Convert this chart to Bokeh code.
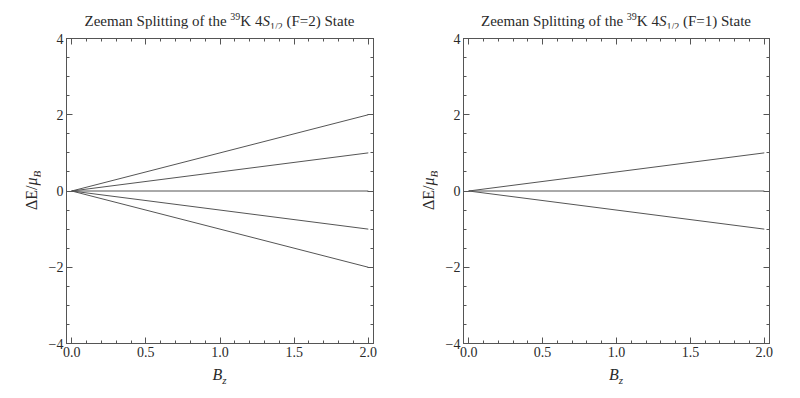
from bokeh.plotting import figure
from bokeh.layouts import row, column
from bokeh.models import LinearAxis, Range1d, FixedTicker, PrintfTickFormatter, Div
from bokeh.embed import file_html
from bokeh.resources import INLINE

# ---- data ----
B_field = [0.0, 2.0]
f2_levels = {"mF=2": [0.0, 2.0], "mF=1": [0.0, 1.0], "mF=0": [0.0, 0.0],
             "mF=-1": [0.0, -1.0], "mF=-2": [0.0, -2.0]}
f1_levels = {"mF=-1": [0.0, 1.0], "mF=0": [0.0, 0.0], "mF=1": [0.0, -1.0]}
x_ticks = [0.0, 0.5, 1.0, 1.5, 2.0]
x_minor = [v / 10 for v in range(0, 21)]
y_ticks = [-4, -2, 0, 2, 4]
y_minor = [v / 2 for v in range(-8, 9)]
y_tick_labels = {-4: "\u22124", -2: "\u22122", 0: "0", 2: "2", 4: "4"}
states = ["F=2", "F=1"]

SERIF = "Liberation Serif"
FRAME = "#555555"
TXT = "#2a2a2a"
LINE = "#555555"
FONT_CSS = "font-family:'Liberation Serif',serif;color:%s;" % TXT

TOP_B = 10      # figure border above frame
BOT_B = 22      # figure border below frame
LEFT_B = 26     # figure border left of frame (tick labels)
FRAME_H = 305
TITLE_H = 28
YLAB_GAP = 33   # distance from frame to centre of y label


def style_axis(ax, y=False):
    ax.axis_line_color = FRAME
    ax.major_tick_line_color = FRAME
    ax.minor_tick_line_color = FRAME
    ax.major_tick_in = 6
    ax.major_tick_out = 0
    ax.minor_tick_in = 3
    ax.minor_tick_out = 0
    ax.major_label_text_font = SERIF
    ax.major_label_text_color = TXT
    ax.major_label_text_font_size = "14px"
    ax.major_label_standoff = 3
    if y:
        ax.ticker = FixedTicker(ticks=y_ticks, minor_ticks=y_minor)
        ax.major_label_overrides = y_tick_labels
    else:
        ax.ticker = FixedTicker(ticks=x_ticks, minor_ticks=x_minor)
        ax.formatter = PrintfTickFormatter(format="%.1f")


def mirror_axes(p, side, minor, major):
    # tick marks only (no labels) on the opposite frame sides
    for ticks, length in ((minor, 3), (major, 6)):
        ax = LinearAxis(ticker=FixedTicker(ticks=[], minor_ticks=ticks))
        ax.axis_line_color = FRAME
        ax.minor_tick_line_color = FRAME
        ax.minor_tick_in = length
        ax.minor_tick_out = 0
        ax.major_tick_in = 0
        ax.major_tick_out = 0
        ax.major_label_standoff = 0
        p.add_layout(ax, side)


def make_panel(state, levels, ydiv_w, frame_w, right_border):
    p = figure(frame_width=frame_w, frame_height=FRAME_H, output_backend="svg",
               toolbar_location=None, x_range=Range1d(-0.035, 2.035),
               y_range=Range1d(-4, 4),
               min_border_left=LEFT_B, min_border_right=right_border,
               min_border_top=TOP_B, min_border_bottom=BOT_B, margin=(0, 0, 0, 0))
    p.grid.visible = False
    p.outline_line_color = FRAME
    style_axis(p.xaxis[0])
    style_axis(p.yaxis[0], y=True)
    mirror_axes(p, "above", x_minor, x_ticks)
    mirror_axes(p, "right", y_minor, y_ticks)
    for name, vals in levels.items():
        p.line(B_field, vals, line_color=LINE, line_width=1)

    fig_h = TOP_B + FRAME_H + BOT_B
    total_w = ydiv_w + LEFT_B + frame_w + right_border
    frame_cx = ydiv_w + LEFT_B + frame_w / 2
    shift = frame_cx - total_w / 2

    title = Div(
        text=("<div style=\"%s font-size:15px;width:%dpx;text-align:center;"
              "line-height:20px;padding-top:11px;white-space:nowrap;"
              "transform:translateX(%.1fpx);\">"
              "Zeeman Splitting of the <sup style=\"font-size:10px;line-height:0;\">39</sup>K "
              "4<i>S</i><sub style=\"font-size:10px;line-height:0;\">1/2</sub> (%s) State</div>")
        % (FONT_CSS, total_w, shift, state),
        width=total_w, height=TITLE_H, margin=(0, 0, 0, 0))

    inner_h = 2 * (TOP_B + FRAME_H / 2)
    centre = ydiv_w + LEFT_B - YLAB_GAP          # x of label centre inside the div
    pad = max(0, 2 * centre - ydiv_w)
    ylab = Div(
        text=("<div style=\"%s font-size:16px;width:%dpx;height:%dpx;display:flex;"
              "align-items:center;justify-content:center;box-sizing:border-box;"
              "padding-left:%dpx;\">"
              "<span style=\"display:inline-block;transform:rotate(-90deg);white-space:nowrap;\">"
              "\u0394E/<i>\u03bc</i><sub style=\"font-size:11px;line-height:0;\"><i>B</i></sub>"
              "</span></div>") % (FONT_CSS, ydiv_w, inner_h, pad),
        width=ydiv_w, height=fig_h, margin=(0, 0, 0, 0))

    xlab = Div(
        text=("<div style=\"%s font-size:16px;width:%dpx;text-align:center;line-height:20px;"
              "white-space:nowrap;transform:translateX(%.1fpx);\">"
              "<i>B</i><sub style=\"font-size:11px;line-height:0;\"><i>z</i></sub></div>")
        % (FONT_CSS, total_w, shift),
        width=total_w, height=22, margin=(0, 0, 0, 0))

    return column(title, row(ylab, p, margin=(0, 0, 0, 0), spacing=0), xlab,
                  margin=(0, 0, 0, 0), spacing=0)


c1 = make_panel(states[0], f2_levels, 40, 307, 35)
c2 = make_panel(states[1], f1_levels, 29, 306, 15)
layout = row(c1, c2, margin=(0, 0, 0, 0), spacing=0)
open("out.html", "w").write(file_html(layout, INLINE))
